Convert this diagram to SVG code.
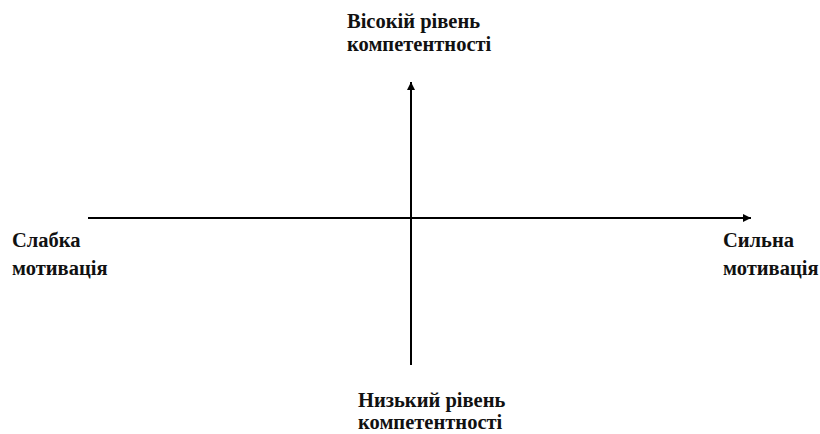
<svg xmlns="http://www.w3.org/2000/svg" width="820" height="434" viewBox="0 0 820 434">
<style>
text{font-family:"Liberation Serif","Times New Roman",serif;font-weight:bold;font-size:20.5px;fill:#111}
.ax{stroke:#000;stroke-width:2;fill:none}
</style>
<defs>
<marker id="ah" viewBox="0 0 10 10" refX="10" refY="5" markerWidth="10" markerHeight="8" markerUnits="userSpaceOnUse" orient="auto">
<path d="M0,0 L10,5 L0,10 z" fill="#000"/>
</marker>
</defs>
<rect width="820" height="434" fill="#fff"/>
<g id="connectors">
<line class="ax" x1="88" y1="218" x2="751" y2="218" marker-end="url(#ah)"/>
<line class="ax" x1="411" y1="365" x2="411" y2="82" marker-end="url(#ah)"/>
</g>
<g id="top"><text x="347" y="28">Вісокій рівень</text><text x="347" y="51">компетентності</text></g>
<g id="left"><text x="12" y="247">Слабка</text><text x="12" y="275">мотивація</text></g>
<g id="right"><text x="723" y="247">Сильна</text><text x="723" y="275">мотивація</text></g>
<g id="bottom"><text x="358" y="407">Низький рівень</text><text x="358" y="429">компетентності</text></g>
</svg>
